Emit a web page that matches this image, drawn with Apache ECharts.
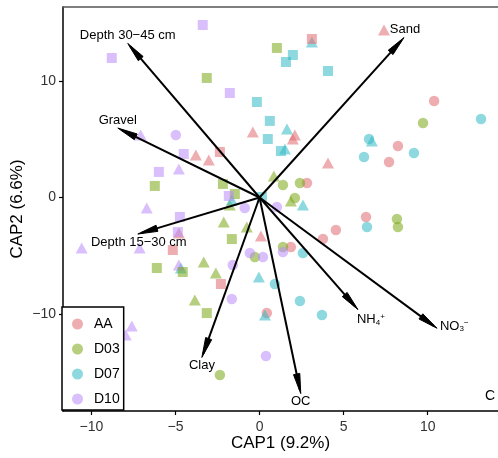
<!DOCTYPE html>
<html>
<head>
<meta charset="utf-8">
<script src="https://cdn.jsdelivr.net/npm/echarts@6/dist/echarts.min.js"></script>
<style>
  html, body { margin: 0; padding: 0; background: #fff; }
  #chart { width: 498px; height: 458px; }
</style>
</head>
<body>
<div id="chart"></div>
<script>
// Site scores on the first two constrained axes, grouped by treatment and shape
const aaCircles   = [[10.38,8.27],[8.23,4.41],[7.70,3.04],[2.82,1.24],[6.33,-1.67],[4.54,-2.78],[3.77,-3.56],[1.86,-4.24],[0.43,-9.90]];
const aaTriangles = [[7.40,14.35],[-0.40,5.61],[2.10,5.36],[1.98,5.01],[-3.79,3.64],[-3.02,3.21],[4.07,2.96],[-4.80,-3.04],[0.08,-3.30]];
const aaSquares   = [[3.11,13.58],[-2.36,3.90],[-5.16,-4.50],[-2.30,-7.41]];

const d03Circles   = [[9.72,6.38],[1.39,1.07],[2.40,1.24],[2.10,-0.04],[8.17,-1.84],[8.23,-2.53],[-0.28,-5.10],[1.39,-4.24],[-2.36,-15.21]];
const d03Triangles = [[0.85,1.84],[1.86,-0.30],[-1.77,-0.64],[-2.13,-2.10],[-0.76,-2.53],[-3.32,-5.53],[-2.60,-6.47],[-3.85,-8.78]];
const d03Squares   = [[-3.14,10.24],[1.03,12.81],[-6.23,0.99],[-2.18,1.16],[-1.47,0.30],[-1.65,-3.56],[-6.11,-6.04],[-4.57,-6.38],[-3.14,-9.90]];

const d07Circles   = [[13.17,6.73],[6.51,5.01],[9.18,3.81],[6.21,3.47],[6.39,-2.53],[2.58,-4.76],[0.91,-7.41],[2.40,-8.87],[3.71,-10.07]];
const d07Triangles = [[3.11,13.32],[1.63,5.87],[1.51,4.16],[-1.65,-0.21],[2.58,-0.64],[-0.04,-6.81],[0.32,-10.07],[-4.68,-6.04],[6.68,4.84]];
const d07Squares   = [[-0.16,8.18],[0.61,6.56],[0.49,5.01],[1.27,3.98],[1.98,12.21],[1.57,11.61],[4.07,10.84],[0.14,0.04]];

const d10Circles   = [[-4.98,5.36],[-0.88,-0.90],[1.03,-0.81],[-0.58,-4.76],[0.20,-5.10],[1.39,-4.67],[-1.59,-5.78],[-1.65,-8.70],[0.38,-13.58]];
const d10Triangles = [[-7.07,5.36],[-4.80,2.44],[-6.71,-0.90],[-10.58,-4.33],[-7.13,-4.33],[-4.80,-5.78],[-7.60,-11.01],[-7.96,-11.78]];
const d10Squares   = [[-3.38,14.78],[-8.79,11.95],[-1.77,8.95],[-4.51,3.73],[-5.99,2.19],[-1.83,0.13],[-4.74,-1.67],[-4.86,-2.96]];

const groups = ['AA', 'D03', 'D07', 'D10'];

// Environmental vectors (biplot arrows)
const envNames = ['Depth 30−45 cm', 'Gravel', 'Sand', 'Depth 15−30 cm', 'Clay', 'OC', 'NH4+', 'NO3−'];
const envCAP1  = [-7.84, -8.43, 8.59, -7.24, -3.43, 2.45, 5.85, 10.55];
const envCAP2  = [13.2, 5.95, 13.7, -3.13, -13.7, -16.8, -9.6, -11.2];

// Tick values
const xTicks = [-10, -5, 0, 5, 10];
const yTicks = [-10, 0, 10];

// ---- styling ----
const FONT = "'Liberation Sans', Arial, Helvetica, sans-serif";
const groupColors = { AA: '#E06A70', D03: '#7AA814', D07: '#30BAC4', D10: '#B98AFA' };
const POINT_OPACITY = 0.55;
const shapeStyle = {
  circle:   { symbol: 'circle',   size: 10.5 },
  triangle: { symbol: 'triangle', size: [12, 11] },
  square:   { symbol: 'rect',     size: 10 }
};
// label placement relative to arrow tip: [dx, dy, align]
const labelPlacement = [
  [0, -8, 'center'], [0, -8, 'center'], [1, -8, 'center'], [1, 8, 'center'],
  [0, 8, 'center'], [0, 8, 'center'], [-1, 10, 'left'], [3, -2, 'left']
];
const richLabels = {
  'NH4+': '{b|NH}{sub|4}{sup|+}',
  'NO3−': '{b|NO}{sub|3}{sup|−}'
};

const minus = v => String(v).replace('-', '−');

const pointSets = [
  ['AA', 'circle', aaCircles], ['D03', 'circle', d03Circles], ['D07', 'circle', d07Circles], ['D10', 'circle', d10Circles],
  ['AA', 'triangle', aaTriangles], ['D03', 'triangle', d03Triangles], ['D07', 'triangle', d07Triangles], ['D10', 'triangle', d10Triangles],
  ['AA', 'square', aaSquares], ['D03', 'square', d03Squares], ['D07', 'square', d07Squares], ['D10', 'square', d10Squares]
];

const pointSeries = pointSets.map(([g, shape, pts]) => ({
  name: g,
  type: 'scatter',
  xAxisIndex: 0,
  yAxisIndex: 0,
  symbol: shapeStyle[shape].symbol,
  symbolSize: shapeStyle[shape].size,
  itemStyle: { color: groupColors[g], opacity: POINT_OPACITY },
  emphasis: { disabled: true },
  z: 2,
  data: pts
}));

const envData = envNames.map((n, i) => [envCAP1[i], envCAP2[i], i]);

const arrowSeries = {
  type: 'custom',
  xAxisIndex: 0,
  yAxisIndex: 0,
  z: 5,
  silent: true,
  data: envData,
  renderItem: function (params, api) {
    const idx = api.value(2);
    const o = api.coord([0, 0]);
    const t = api.coord([api.value(0), api.value(1)]);
    const dx = t[0] - o[0], dy = t[1] - o[1];
    const len = Math.sqrt(dx * dx + dy * dy);
    const ux = dx / len, uy = dy / len;
    const headLen = 20, headHalf = 3.2;
    const bx = t[0] - ux * headLen, by = t[1] - uy * headLen;
    const p1 = [bx - uy * headHalf, by + ux * headHalf];
    const p2 = [bx + uy * headHalf, by - ux * headHalf];
    const pl = labelPlacement[idx];
    const name = envNames[idx];
    const rich = richLabels[name];
    return {
      type: 'group',
      children: [
        { type: 'line', shape: { x1: o[0], y1: o[1], x2: t[0] - ux * 4, y2: t[1] - uy * 4 },
          style: { stroke: '#000', lineWidth: 2 } },
        { type: 'polygon', shape: { points: [t, p1, p2] },
          style: { fill: '#000', stroke: '#000', lineWidth: 1 } },
        { type: 'text', x: t[0] + pl[0], y: t[1] + pl[1],
          style: {
            text: rich || name,
            fontFamily: FONT, fontSize: 13, fill: '#000',
            align: pl[2], verticalAlign: 'middle',
            rich: {
              b:   { fontFamily: FONT, fontSize: 13, fill: '#000' },
              sub: { fontFamily: FONT, fontSize: 8, fill: '#000', verticalAlign: 'bottom', padding: [6, 0, 0, 0] },
              sup: { fontFamily: FONT, fontSize: 8, fill: '#000', verticalAlign: 'top', padding: [0, 0, 6, 0] }
            }
          } }
      ]
    };
  }
};

const chart = echarts.init(document.getElementById('chart'), null, { renderer: 'canvas' });
chart.setOption({
  backgroundColor: '#fff',
  animation: false,
  textStyle: { fontFamily: FONT },
  grid: { left: 63, right: 0, top: 7, bottom: 47, outerBoundsMode: 'none' },
  legend: {
    data: groups,
    orient: 'vertical',
    left: 62, top: 307,
    icon: 'circle',
    itemWidth: 23, itemHeight: 11,
    itemGap: 11,
    padding: [10, 4, 4, 10],
    borderColor: '#000', borderWidth: 1.5, borderRadius: 0,
    backgroundColor: '#fff',
    selectedMode: false,
    textStyle: { fontFamily: FONT, fontSize: 14, color: '#000' },
    itemStyle: { opacity: POINT_OPACITY }
  },
  xAxis: [{
    type: 'value',
    min: -11.69, max: 14.18,
    name: 'CAP1 (9.2%)',
    nameLocation: 'middle', nameGap: 24, nameMoveOverlap: false,
    nameTextStyle: { fontFamily: FONT, fontSize: 17, color: '#000' },
    axisLine: { show: true, onZero: false, lineStyle: { color: '#000', width: 1.5 } },
    axisTick: { show: true, length: 4, customValues: xTicks, lineStyle: { color: '#000', width: 1.2 } },
    axisLabel: { customValues: xTicks, formatter: minus, margin: 9, fontFamily: FONT, fontSize: 14, color: '#333' },
    splitLine: { show: false }
  }, {
    type: 'value',
    position: 'top',
    min: -11.69, max: 14.18,
    axisLine: { show: true, onZero: false, lineStyle: { color: '#555', width: 1.5 } },
    axisTick: { show: false }, axisLabel: { show: false }, splitLine: { show: false }
  }],
  yAxis: {
    type: 'value',
    min: -18.29, max: 16.32,
    name: 'CAP2 (6.6%)',
    nameLocation: 'middle', nameGap: 37, nameMoveOverlap: false,
    nameTextStyle: { fontFamily: FONT, fontSize: 17, color: '#000' },
    axisLine: { show: true, onZero: false, lineStyle: { color: '#000', width: 1.5 } },
    axisTick: { show: true, length: 4, customValues: yTicks, lineStyle: { color: '#000', width: 1.2 } },
    axisLabel: { customValues: yTicks, formatter: minus, margin: 7, fontFamily: FONT, fontSize: 14, color: '#333' },
    splitLine: { show: false }
  },
  graphic: [{
    type: 'text', left: 485, top: 389,
    style: { text: 'C', fontFamily: FONT, fontSize: 14, fill: '#000' }
  }],
  series: pointSeries.concat([arrowSeries])
});
</script>
</body>
</html>
